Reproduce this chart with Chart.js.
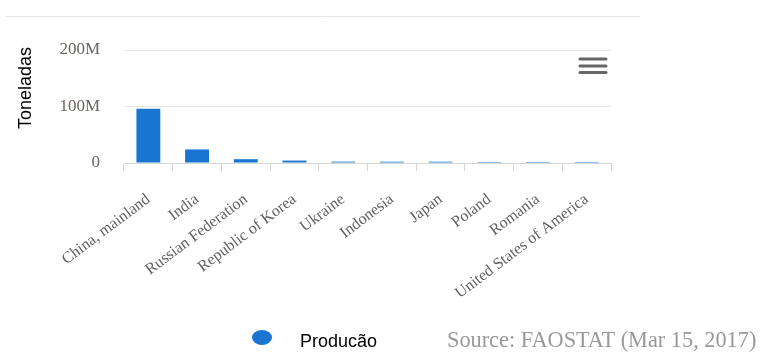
<!DOCTYPE html>
<html>
<head>
<meta charset="utf-8">
<script src="https://cdn.jsdelivr.net/npm/chart.js@4/dist/chart.umd.min.js"></script>
<style>
  body { margin: 0; background: #fff; }
</style>
</head>
<body>
<canvas id="grafico" width="761" height="354"></canvas>
<script>
// Datos del grafico
const paises = ['China, mainland', 'India', 'Russian Federation', 'Republic of Korea', 'Ukraine',
                'Indonesia', 'Japan', 'Poland', 'Romania', 'United States of America'];
const producao = [96e6, 24e6, 6.7e6, 4.3e6, 2.4e6, 2.3e6, 2.3e6, 0.05e6, 0.04e6, 0.03e6];
const marcasY = [0, 100e6, 200e6];
const rotulosY = ['0', '100M', '200M'];
const nomeSerie = 'Producão';
const tituloY = 'Toneladas';
const fonte = 'Source: FAOSTAT (Mar 15, 2017)';

const azul = '#1a75d2';

// Extras: linea superior, menu, titulo del eje, leyenda y fuente
const extras = {
    id: 'extras',
    afterDraw(chart) {
        const ctx = chart.ctx;
        ctx.save();

        // linea superior
        ctx.strokeStyle = '#e6e6e6';
        ctx.lineWidth = 1;
        ctx.beginPath();
        ctx.moveTo(5, 16.5);
        ctx.lineTo(640, 16.5);
        ctx.stroke();

        // icono de menu
        ctx.strokeStyle = '#666';
        ctx.lineWidth = 3;
        ctx.lineCap = 'round';
        [59, 66, 72.5].forEach(y => {
            ctx.beginPath();
            ctx.moveTo(580, y);
            ctx.lineTo(606, y);
            ctx.stroke();
        });

        // titulo del eje Y
        ctx.fillStyle = '#000';
        ctx.font = '18px "Liberation Sans", Arial, sans-serif';
        ctx.textAlign = 'center';
        ctx.textBaseline = 'middle';
        ctx.translate(26, 88);
        ctx.rotate(-Math.PI / 2);
        ctx.fillText(tituloY, 0, 0);
        ctx.setTransform(1, 0, 0, 1, 0, 0);

        // leyenda
        ctx.fillStyle = azul;
        ctx.beginPath();
        ctx.ellipse(262, 337.5, 10, 7.5, 0, 0, Math.PI * 2);
        ctx.fill();
        ctx.fillStyle = '#000';
        ctx.textAlign = 'left';
        ctx.textBaseline = 'alphabetic';
        ctx.font = '18px "Liberation Sans", Arial, sans-serif';
        ctx.fillText(nomeSerie, 300, 347);

        // fuente
        ctx.fillStyle = '#999';
        ctx.font = '22.3px "Liberation Serif", "Times New Roman", serif';
        ctx.fillText(fonte, 447, 347);

        ctx.restore();
    }
};

const ctx = document.getElementById('grafico').getContext('2d');
const grafico = new Chart(ctx, {
    type: 'bar',
    data: {
        labels: paises,
        datasets: [{
            label: nomeSerie,
            data: producao,
            backgroundColor: azul,
            barPercentage: 0.49,
            categoryPercentage: 1
        }]
    },
    options: {
        responsive: false,
        animation: false,
        layout: { padding: { top: 50, right: 150, left: 0, bottom: 0 } },
        plugins: {
            legend: { display: false },
            tooltip: { enabled: false }
        },
        scales: {
            x: {
                afterFit: scale => { scale.height = 191; },
                grid: { drawOnChartArea: false, drawTicks: true, tickLength: 8, color: '#d6d6d6' },
                border: { display: true, color: '#d6d6d6' },
                ticks: {
                    autoSkip: false,
                    minRotation: 37,
                    maxRotation: 37,
                    padding: 19,
                    color: '#606060',
                    font: { family: '"Liberation Serif", "Times New Roman", serif', size: 16 }
                }
            },
            y: {
                min: 0,
                max: 200e6,
                afterFit: scale => { scale.width = 124; },
                afterBuildTicks: scale => { scale.ticks = marcasY.map(v => ({ value: v })); },
                grid: { drawTicks: false, color: '#e6e6e6' },
                border: { display: false },
                ticks: {
                    padding: 24,
                    color: '#6b6461',
                    font: { family: '"Liberation Serif", "Times New Roman", serif', size: 17 },
                    callback: (v) => rotulosY[marcasY.indexOf(v)]
                }
            }
        }
    },
    plugins: [extras]
});
</script>
</body>
</html>
